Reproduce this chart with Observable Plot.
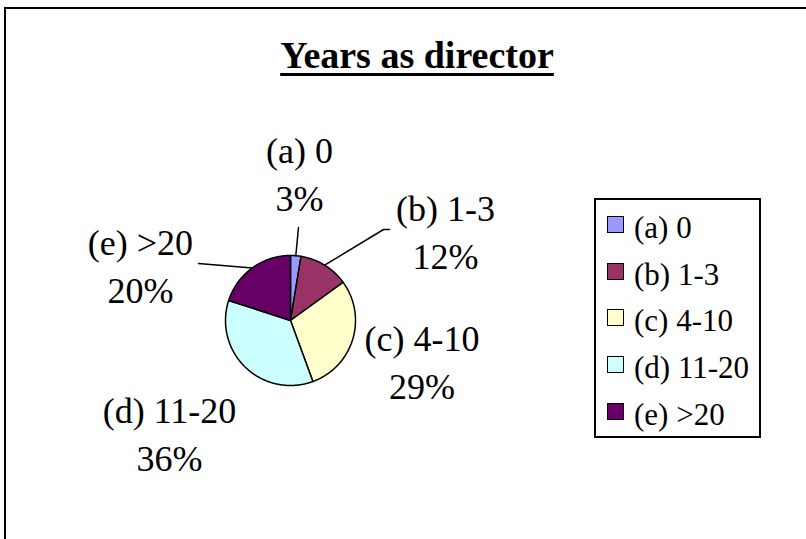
<!DOCTYPE html>
<html>
<head>
<meta charset="utf-8">
<script src="https://cdn.jsdelivr.net/npm/d3@7"></script>
<script src="https://cdn.jsdelivr.net/npm/@observablehq/plot@0.6"></script>
<style>
  html, body { margin: 0; padding: 0; background: #fff; }
  body { width: 806px; height: 539px; position: relative; overflow: hidden; font-family: "Liberation Serif", "Times New Roman", serif; }
  #frame { position: absolute; left: 4px; top: 7px; width: 900px; height: 700px; border: 2px solid #000; box-sizing: border-box; }
  #title { position: absolute; left: 0; width: 834px; top: 36px; text-align: center; font-size: 38px; line-height: 38px; font-weight: bold; color: #000; }
  #title span { text-decoration: underline; text-decoration-thickness: 3px; text-underline-offset: 5px; }
  #plot { position: absolute; left: 0; top: 0; }
  #legend { position: absolute; left: 594px; top: 198px; width: 167px; height: 240px; border: 2px solid #000; box-sizing: border-box; padding-top: 1px; background: #fff; }
  .row { display: flex; align-items: center; height: 46.75px; }
  .sw { width: 17px; height: 17px; box-sizing: border-box; border: 1.5px solid #000; margin-left: 11px; margin-right: 10px; }
  .lt { font-size: 31px; line-height: 31px; position: relative; top: 3px; color: #000; white-space: nowrap; }
</style>
</head>
<body>
<div id="frame"></div>
<div id="plot"></div>
<div id="title"><span>Years as director</span></div>
<div id="legend"></div>
<script>
// ---- data ----
const categories = ["(a) 0", "(b) 1-3", "(c) 4-10", "(d) 11-20", "(e) >20"];
const values = [2.6, 12.4, 29.4, 35.6, 20.0];
const pctLabels = ["3%", "12%", "29%", "36%", "20%"];
const colors = ["#9999FF", "#993366", "#FFFFCC", "#CCFFFF", "#660066"];

// ---- layout (pie radius units, x right / y up, relative to pie centre) ----
const W = 806, H = 539, R = 65, CX = 290, CY = 320;
const labelPos = [[0.138, 2.23], [2.385, 1.338], [2.023, -0.662], [-1.862, -1.769], [-2.308, 0.815]];
const leaderEnds = { 0: [[0.123, 1.431]], 1: [[1.431, 1.40], [1.523, 1.40]], 4: [[-1.415, 0.877]] };

// ---- geometry ----
const total = d3.sum(values);
let acc = 0;
const slices = values.map((v, i) => {
  const a0 = acc / total * 2 * Math.PI; acc += v;
  const a1 = acc / total * 2 * Math.PI;
  return { cat: categories[i], a0, a1, mid: (a0 + a1) / 2 };
});
const piePts = slices.flatMap(s => {
  const n = Math.max(2, Math.ceil((s.a1 - s.a0) / (Math.PI / 360)));
  const pts = [{ cat: s.cat, x: 0, y: 0 }];
  for (let k = 0; k <= n; k++) {
    const a = s.a0 + (s.a1 - s.a0) * k / n;
    pts.push({ cat: s.cat, x: Math.sin(a), y: Math.cos(a) });
  }
  pts.push({ cat: s.cat, x: 0, y: 0 });
  return pts;
});
const leaderPts = Object.entries(leaderEnds).flatMap(([i, ends]) => {
  const s = slices[+i];
  return [{ cat: s.cat, x: Math.sin(s.mid), y: Math.cos(s.mid) },
          ...ends.map(([x, y]) => ({ cat: s.cat, x, y }))];
});
const labelData = categories.map((c, i) => ({ cat: c, x: labelPos[i][0], y: labelPos[i][1], text: c + "\n" + pctLabels[i] }));

const chart = Plot.plot({
  width: W, height: H, margin: 0,
  style: { background: "transparent", overflow: "visible" },
  x: { domain: [-CX / R, (W - CX) / R], axis: null },
  y: { domain: [-(H - CY) / R, CY / R], axis: null },
  color: { domain: categories, range: colors },
  marks: [
    Plot.line(piePts, { x: "x", y: "y", z: "cat", fill: "cat", stroke: "black", strokeWidth: 1.5, strokeLinejoin: "round" }),
    Plot.line(leaderPts, { x: "x", y: "y", z: "cat", stroke: "black", strokeWidth: 1.5 }),
    Plot.text(labelData, { x: "x", y: "y", text: "text", fontSize: 36, fontFamily: "Liberation Serif", lineHeight: 1.33, dy: -4, fill: "black", textAnchor: "middle" })
  ]
});
document.getElementById("plot").appendChild(chart);

// ---- legend ----
const legend = document.getElementById("legend");
categories.forEach((c, i) => {
  const row = document.createElement("div"); row.className = "row";
  const sw = document.createElement("div"); sw.className = "sw"; sw.style.background = colors[i];
  const t = document.createElement("span"); t.className = "lt"; t.textContent = c;
  row.appendChild(sw); row.appendChild(t); legend.appendChild(row);
});
</script>
</body>
</html>
